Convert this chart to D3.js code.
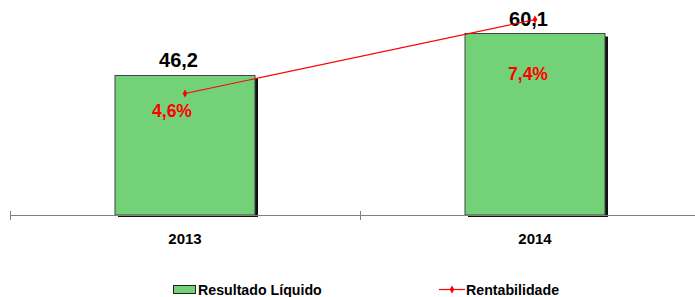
<!DOCTYPE html>
<html>
<head>
<meta charset="utf-8">
<script src="https://cdn.jsdelivr.net/npm/d3@7"></script>
<style>
  body { margin: 0; background: #fff; }
  text { font-family: "Liberation Sans", Arial, sans-serif; }
</style>
</head>
<body>
<div id="chart"></div>
<script>
// data
var years = ["2013", "2014"];
var resultado = [46.2, 60.1];
var rentabilidade = [4.6, 7.4];
var resultadoLabels = ["46,2", "60,1"];
var rentLabels = ["4,6%", "7,4%"];

var svgWidth = 695, svgHeight = 297;
var baseY = 215;

var svg = d3.select("#chart").append("svg")
  .attr("width", svgWidth)
  .attr("height", svgHeight);

// scales
var x = d3.scaleBand()
  .domain(years)
  .range([10, 710])
  .paddingInner(0.6)
  .paddingOuter(0.3);

var y = d3.scaleLinear().domain([0, 71.2]).range([baseY, 0]);
var yPct = d3.scaleLinear().domain([0, 8.14]).range([baseY, 0]);

var step = x.step();
var cx = d => x(d) + x.bandwidth() / 2;

// bar shadows
svg.selectAll("rect.shadow")
  .data(years)
  .enter().append("rect")
  .attr("class", "shadow")
  .attr("x", d => x(d) + 3)
  .attr("y", (d, i) => y(resultado[i]) + 3)
  .attr("width", x.bandwidth())
  .attr("height", (d, i) => baseY - y(resultado[i]) - 1)
  .attr("fill", "#111");

// bars
svg.selectAll("rect.bar")
  .data(years)
  .enter().append("rect")
  .attr("class", "bar")
  .attr("x", d => x(d))
  .attr("y", (d, i) => y(resultado[i]))
  .attr("width", x.bandwidth())
  .attr("height", (d, i) => baseY - y(resultado[i]))
  .attr("fill", "#73D177")
  .attr("stroke", "#444")
  .attr("stroke-width", 1);

// axis line
svg.append("line")
  .attr("x1", 10).attr("x2", 695)
  .attr("y1", baseY + 0.5).attr("y2", baseY + 0.5)
  .attr("stroke", "#808080");

svg.selectAll("line.tick")
  .data([0, 1])
  .enter().append("line")
  .attr("x1", d => 10.5 + d * step).attr("x2", d => 10.5 + d * step)
  .attr("y1", baseY - 4).attr("y2", baseY + 5)
  .attr("stroke", "#808080");

// category labels
svg.selectAll("text.cat")
  .data(years)
  .enter().append("text")
  .attr("x", d => cx(d))
  .attr("y", 244)
  .attr("text-anchor", "middle")
  .attr("font-size", "15px")
  .attr("font-weight", "bold")
  .text(d => d);

// bar value labels
svg.selectAll("text.val")
  .data(years)
  .enter().append("text")
  .attr("x", d => cx(d) - 6.5)
  .attr("y", (d, i) => y(resultado[i]) - 8)
  .attr("text-anchor", "middle")
  .attr("font-size", "20px")
  .attr("font-weight", "bold")
  .attr("fill", "#000")
  .text((d, i) => resultadoLabels[i]);

// line
var line = d3.line()
  .x((d, i) => cx(years[i]))
  .y(d => yPct(d));

svg.append("path")
  .datum(rentabilidade)
  .attr("d", line)
  .attr("fill", "none")
  .attr("stroke", "#FF0000")
  .attr("stroke-width", 1.2);

var diamond = d3.symbol().type(d3.symbolDiamond).size(18);

svg.selectAll("path.pt")
  .data(rentabilidade)
  .enter().append("path")
  .attr("transform", (d, i) => `translate(${cx(years[i])},${yPct(d)})`)
  .attr("d", diamond)
  .attr("fill", "#FF0000");

// percent labels
var pctDx = [-13, -7];
var pctDy = [23, 60];
svg.selectAll("text.pct")
  .data(rentabilidade)
  .enter().append("text")
  .attr("x", (d, i) => cx(years[i]) + pctDx[i])
  .attr("y", (d, i) => yPct(d) + pctDy[i])
  .attr("text-anchor", "middle")
  .attr("font-size", "17.5px")
  .attr("font-weight", "bold")
  .attr("fill", "#FF0000")
  .text((d, i) => rentLabels[i]);

// legend
var legend = svg.append("g");
legend.append("rect")
  .attr("x", 173.5).attr("y", 285.5)
  .attr("width", 22).attr("height", 8)
  .attr("fill", "#73D177")
  .attr("stroke", "#222");
legend.append("text")
  .attr("x", 198).attr("y", 295)
  .attr("font-size", "14.2px")
  .attr("font-weight", "bold")
  .text("Resultado Líquido");

legend.append("line")
  .attr("x1", 439).attr("x2", 465)
  .attr("y1", 289.5).attr("y2", 289.5)
  .attr("stroke", "#FF0000")
  .attr("stroke-width", 1.2);
legend.append("path")
  .attr("transform", "translate(452,289.5)")
  .attr("d", diamond)
  .attr("fill", "#FF0000");
legend.append("text")
  .attr("x", 466).attr("y", 295)
  .attr("font-size", "14.2px")
  .attr("font-weight", "bold")
  .text("Rentabilidade");
</script>
</body>
</html>
